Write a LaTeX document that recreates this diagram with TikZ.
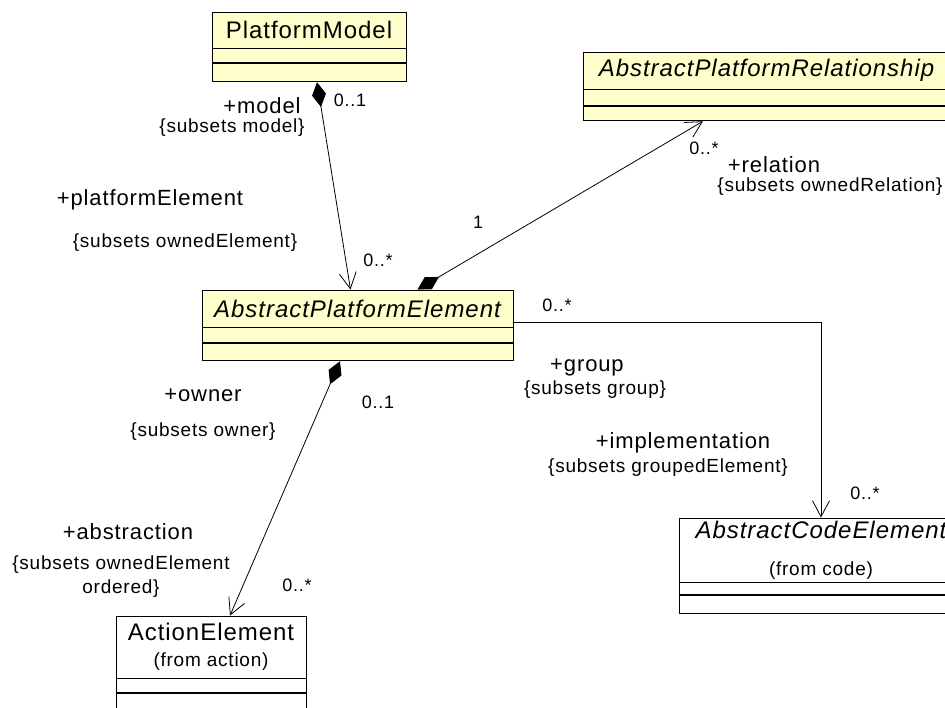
\documentclass[tikz,border=0pt]{standalone}
\usepackage{fontspec}
\setmainfont{Liberation Sans}[LetterSpace=4]
\usepackage{tikz}
\usetikzlibrary{positioning, arrows.meta}
\definecolor{umlyellow}{RGB}{255,255,204}

\begin{document}
\begin{tikzpicture}[
  x=1pt, y=-1pt,
  classname/.style={draw, line width=0.9pt, inner sep=0pt, align=center,
    font=\fontsize{24}{28}\selectfont},
  compart/.style={draw, line width=0.9pt, inner sep=0pt},
  role/.style={font=\fontsize{22}{26}\selectfont, inner sep=0pt},
  cstr/.style={font=\fontsize{19}{24}\selectfont, inner sep=0pt, align=center},
  mult/.style={font=\fontsize{18}{22}\selectfont, inner sep=0pt},
  comp/.style={line width=0.8pt,
    {Diamond[length=25pt,width=14pt]}-{Straight Barb[length=16pt,width=17pt]}},
  assoc/.style={line width=0.8pt, -{Straight Barb[length=16pt,width=17pt]}}
]
  \useasboundingbox (0,0) rectangle (945,708);
  \clip (0,0) rectangle (945,708);

  % classes
  \node[classname, fill=umlyellow, minimum width=194pt, minimum height=36pt] (pm) at (309,30) {PlatformModel};
  \node[compart, fill=umlyellow, minimum width=194pt, minimum height=14pt, below=0pt of pm] (pma) {};
  \node[compart, fill=umlyellow, minimum width=194pt, minimum height=18pt, below=0pt of pma] (pmo) {};

  \node[classname, fill=umlyellow, minimum width=367pt, minimum height=37pt] (apr) at (766.5,70.5) {\itshape AbstractPlatformRelationship};
  \node[compart, fill=umlyellow, minimum width=367pt, minimum height=16pt, below=0pt of apr] (apra) {};
  \node[compart, fill=umlyellow, minimum width=367pt, minimum height=14pt, below=0pt of apra] (apro) {};

  \node[classname, fill=umlyellow, minimum width=311pt, minimum height=37pt] (ape) at (357.5,308.5) {\itshape AbstractPlatformElement};
  \node[compart, fill=umlyellow, minimum width=311pt, minimum height=15pt, below=0pt of ape] (apea) {};
  \node[compart, fill=umlyellow, minimum width=311pt, minimum height=17pt, below=0pt of apea] (apeo) {};

  \node[classname, fill=white, minimum width=284pt, minimum height=64pt] (ace) at (821,550)
    {{\itshape AbstractCodeElement}\\[9pt]{\fontsize{19}{22}\selectfont (from code)}};
  \node[compart, fill=white, minimum width=284pt, minimum height=12pt, below=0pt of ace] (acea) {};
  \node[compart, fill=white, minimum width=284pt, minimum height=18pt, below=0pt of acea] (aceo) {};

  \node[classname, fill=white, minimum width=190pt, minimum height=62pt] (ae) at (211,647)
    {ActionElement\\[-2pt]{\fontsize{19}{22}\selectfont (from action)}};
  \node[compart, fill=white, minimum width=190pt, minimum height=14pt, below=0pt of ae] (aea) {};
  \node[compart, fill=white, minimum width=190pt, minimum height=20pt, below=0pt of aea] (aeo) {};

  % connectors
  \draw[comp] ([xshift=8pt]pmo.south) -- ([xshift=-7pt]ape.north);
  \draw[comp] ([xshift=60pt]ape.north) -- ([xshift=-63.5pt]apro.south);
  \draw[assoc] ([yshift=-13.5pt]ape.east) -| (ace.north);
  \draw[comp] ([xshift=-17.5pt]apeo.south) -- ([xshift=19pt]ae.north);

  % ends
  \node[mult] (pmmult) at (350,100) {0..1};
  \node[role] (modelrole) at (262,106) {+model};
  \node[cstr] (modelcstr) at (232,128) {\{subsets model\}};
  \node[role] (elemrole) at (150,200) {+platformElement};
  \node[cstr] (elemcstr) at (185,243) {\{subsets ownedElement\}};
  \node[mult] (elemmult) at (378,260) {0..*};

  \node[mult] (relone) at (478,222) {1};
  \node[mult] (relmult) at (704,148) {0..*};
  \node[role] (relrole) at (774,165) {+relation};
  \node[cstr] (relcstr) at (830,187) {\{subsets ownedRelation\}};

  \node[mult] (grpmult) at (557,305) {0..*};
  \node[role] (grprole) at (587,367) {+group};
  \node[cstr] (grpcstr) at (595,390) {\{subsets group\}};
  \node[role] (implrole) at (683,443) {+implementation};
  \node[cstr] (implcstr) at (668,468) {\{subsets groupedElement\}};
  \node[mult] (implmult) at (865,493) {0..*};

  \node[mult] (ownmult) at (378,402) {0..1};
  \node[role] (ownrole) at (203,395) {+owner};
  \node[cstr] (owncstr) at (203,432) {\{subsets owner\}};
  \node[role] (absrole) at (128,532) {+abstraction};
  \node[cstr] (abscstr) at (121,577) {\{subsets ownedElement\\ordered\}};
  \node[mult] (absmult) at (297,585) {0..*};
\end{tikzpicture}
\end{document}
